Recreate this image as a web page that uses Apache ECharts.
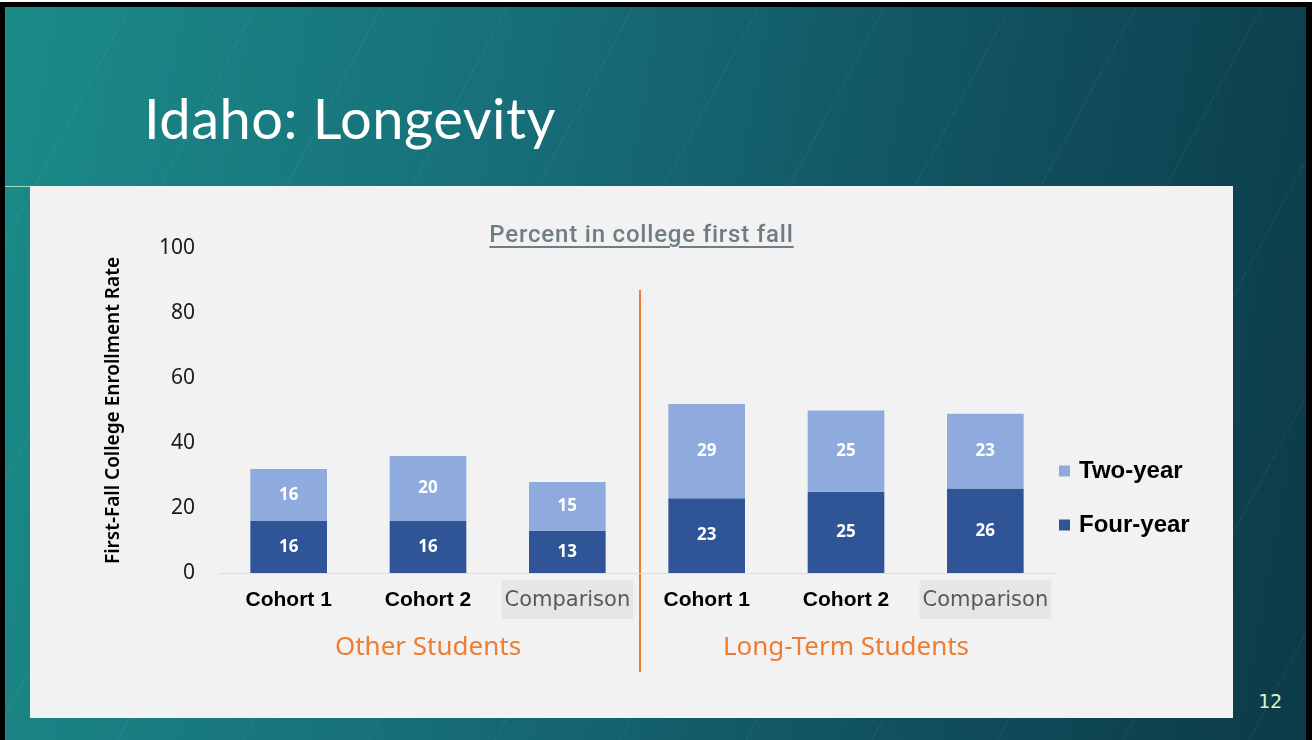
<!DOCTYPE html>
<html>
<head>
<meta charset="utf-8">
<script src="https://cdn.jsdelivr.net/npm/echarts@6/dist/echarts.min.js"></script>
<style>
  html, body { margin: 0; padding: 0; background: #fff; }
  .slide {
    position: absolute; left: 0; top: 2px; width: 1301px; height: 738px;
    border-top: 5px solid #000; border-left: 5px solid #000; border-right: 6px solid #000;
    background:
      repeating-linear-gradient(118deg, rgba(255,255,255,0) 0 110px, rgba(255,255,255,0.05) 110px 111px),
      linear-gradient(100deg, #1b8b88 0%, #17707a 35%, #11515f 70%, #0c3a48 100%);
    overflow: hidden;
  }
  .title {
    position: absolute; left: 139px; top: 83px;
    font-family: Lato, sans-serif; font-size: 56px; line-height: 56px; color: #fff; letter-spacing: 0.5px;
  }
  .rule { position: absolute; left: 0; top: 179px; width: 26px; height: 1px; background: #a8dcc0; }
  .page {
    position: absolute; left: 1253px; top: 682px;
    font-family: "DejaVu Sans Mono", monospace; font-size: 20px; color: #d4f5c8;
  }
  .panel { position: absolute; left: 30px; top: 186px; width: 1203px; height: 532px; background: #f2f2f2; }
  .ctitle {
    position: absolute; left: 10px; width: 1203px; top: 34px; text-align: center;
    font-family: Roboto, sans-serif; font-weight: 500; font-size: 24px; color: #6f7d85; letter-spacing: 0.8px;
    text-decoration: underline; text-decoration-thickness: 2px; text-underline-offset: 4px;
  }
  #main { position: absolute; left: 0; top: 0; width: 1203px; height: 532px; }
</style>
</head>
<body>
<div class="slide">
  <div class="title">Idaho: Longevity</div>
  <div class="rule"></div>
  <div class="page">12</div>
</div>
<div class="panel">
  <div id="main"></div>
  <div class="ctitle">Percent in college first fall</div>
</div>
<script>
  const categories = ['Cohort 1', 'Cohort 2', 'Comparison', 'Cohort 1 ', 'Cohort 2 ', 'Comparison '];
  const groups = ['Other Students', 'Long-Term Students'];
  const fourYear = [16, 16, 13, 23, 25, 26];
  const twoYear = [16, 20, 15, 29, 25, 23];
  const yTicks = [0, 20, 40, 60, 80, 100];

  const chart = echarts.init(document.getElementById('main'));
  const labelStyle = {
    show: true, position: 'inside', color: '#fff',
    fontFamily: 'Noto Sans', fontWeight: 'bold', fontSize: 17
  };

  chart.setOption({
    animation: false,
    grid: {left: 189, right: 178, top: 62, bottom: 145},
    legend: {
      orient: 'vertical', left: 1024, top: 268, itemGap: 30,
      itemWidth: 11, itemHeight: 11, icon: 'rect',
      data: ['Two-year', 'Four-year'],
      textStyle: {fontFamily: 'Liberation Sans', fontWeight: 'bold', fontSize: 24, color: '#000', padding: [0, 0, 0, 4]}
    },
    xAxis: [
      {
        type: 'category', data: categories,
        axisLine: {lineStyle: {color: '#d9dde6', width: 1}},
        axisTick: {show: false},
        axisLabel: {
          margin: 16, interval: 0,
          formatter(v) {
            return v.trim() === 'Comparison' ? '{c|Comparison}' : '{b|' + v.trim() + '}';
          },
          rich: {
            b: {fontFamily: 'Liberation Sans', fontWeight: 'bold', fontSize: 21, color: '#000', lineHeight: 21, padding: [10, 2, 8, 2]},
            c: {fontFamily: 'DejaVu Sans', fontSize: 21, color: '#595959', lineHeight: 21, padding: [10, 3, 8, 3], backgroundColor: '#e6e6e6'}
          }
        }
      },
      {
        type: 'category', data: groups, position: 'bottom', offset: 0,
        axisLine: {show: false}, axisTick: {show: false},
        axisLabel: {margin: 62, interval: 0, fontFamily: 'Noto Sans', fontSize: 26, color: '#ED7D31'}
      }
    ],
    yAxis: {
      type: 'value', min: yTicks[0], max: yTicks[yTicks.length - 1], interval: 20,
      splitLine: {show: false},
      axisLabel: {margin: 24, fontFamily: 'Noto Sans', fontSize: 21, color: '#1a1a1a'},
      name: 'First-Fall College Enrollment Rate',
      nameLocation: 'middle', nameGap: 96,
      nameTextStyle: {fontFamily: 'Noto Sans', fontWeight: 600, fontSize: 19, color: '#000'}
    },
    series: [
      {
        name: 'Four-year', type: 'bar', stack: 'total', barWidth: '55%',
        itemStyle: {color: '#2F5597'}, label: labelStyle, data: fourYear
      },
      {
        name: 'Two-year', type: 'bar', stack: 'total',
        itemStyle: {color: '#8FAADC'}, label: labelStyle, data: twoYear
      }
    ]
  });

  // orange divider between the two student groups
  const p2 = chart.convertToPixel({xAxisIndex: 0}, categories[2]);
  const p3 = chart.convertToPixel({xAxisIndex: 0}, categories[3]);
  const divX = (p2 + p3) / 2 + 3;
  chart.setOption({
    graphic: [{
      type: 'line', shape: {x1: divX, y1: 104, x2: divX, y2: 486},
      style: {stroke: '#ED7D31', lineWidth: 2}
    }]
  });
</script>
</body>
</html>
